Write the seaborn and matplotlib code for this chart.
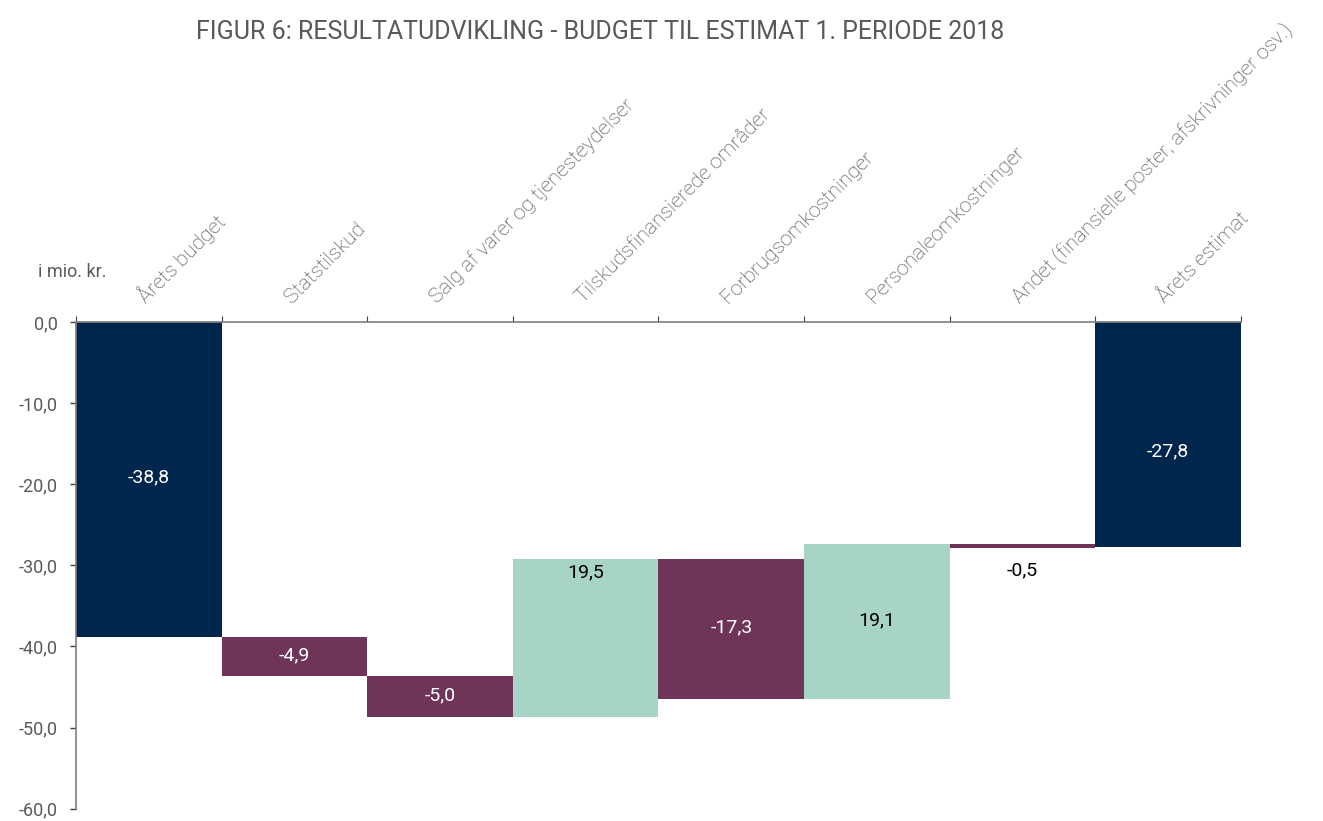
import numpy as np
import pandas as pd
import matplotlib
matplotlib.use("Agg")
import matplotlib.pyplot as plt
import seaborn as sns

# data
categories = [
    "Årets budget",
    "Statstilskud",
    "Salg af varer og tjenesteydelser",
    "Tilskudsfinansierede områder",
    "Forbrugsomkostninger",
    "Personaleomkostninger",
    "Andet (finansielle poster, afskrivninger osv.)",
    "Årets estimat",
]
changes = [-38.8, -4.9, -5.0, 19.5, -17.3, 19.1, -0.5, -27.8]
kinds = ["total", "change", "change", "change", "change", "change", "change", "total"]
y_ticks = [0, -10, -20, -30, -40, -50, -60]

NAVY = "#00264d"
PLUM = "#6e3558"
MINT = "#a8d4c6"
GREY = "#595959"

# waterfall bases
bottoms = []
running = 0.0
for ch, kind in zip(changes, kinds):
    if kind == "total":
        bottoms.append(0.0)
        running = ch
    else:
        bottoms.append(running)
        running += ch
df = pd.DataFrame({"cat": categories, "change": changes, "bottom": bottoms, "kind": kinds})

def bar_color(ch, kind):
    if kind == "total":
        return NAVY
    return MINT if ch > 0 else PLUM

sns.set_style("white")
plt.rcParams["font.family"] = ["Roboto", "DejaVu Sans"]

fig = plt.figure(figsize=(13.23, 8.21), dpi=100)
ax = fig.add_axes([0.0574, 0.0150, 0.8806, 0.5928])

sns.barplot(data=df, x="cat", y="change", bottom=df["bottom"].values, width=1.0,
            color=NAVY, errorbar=None, ax=ax, linewidth=0)
for patch, ch, kind in zip(ax.patches, changes, kinds):
    patch.set_facecolor(bar_color(ch, kind))
    patch.set_edgecolor("none")

# value labels
for i, (ch, b, kind) in enumerate(zip(changes, bottoms, kinds)):
    txt = f"{ch:.1f}".replace(".", ",")
    col = "black" if bar_color(ch, kind) == MINT else "white"
    lo, hi = min(b, b + ch), max(b, b + ch)
    if abs(ch) < 1:
        ax.text(i, lo - 1.6, txt, ha="center", va="top", fontsize=14, color="black")
    elif i == 3:
        ax.text(i, hi - 0.5, txt, ha="center", va="top", fontsize=14, color=col)
    elif i == len(categories) - 1:
        ax.text(i, (lo + hi) / 2 - 2.0, txt, ha="center", va="center", fontsize=14, color=col)
    else:
        ax.text(i, (lo + hi) / 2 + 0.2, txt, ha="center", va="center", fontsize=14, color=col)

ax.set_xlim(-0.5, len(categories) - 0.5)
ax.set_ylim(-60, 0)
ax.set_yticks(y_ticks)
ax.set_yticklabels([f"{t:.1f}".replace(".", ",") for t in y_ticks], color=GREY, fontsize=13)
ax.tick_params(axis="y", direction="out", length=4, width=1, color="#404040", pad=9, left=True)

# x axis on top: boundary ticks + centred rotated labels
ax.xaxis.tick_top()
ax.set_xticks(np.arange(len(categories) + 1) - 0.5)
ax.set_xticklabels([])
ax.set_xticks(np.arange(len(categories)), minor=True)
ax.set_xticklabels(categories, minor=True, rotation=45, ha="left", va="bottom",
                   rotation_mode="anchor", color="#404040", fontsize=15, fontweight="light")
ax.tick_params(axis="x", which="major", direction="out", length=4, color="#404040", top=True)
ax.tick_params(axis="x", which="minor", length=0, pad=11, top=True)
ax.set_xlabel("")
ax.set_ylabel("")

for side in ["right", "bottom"]:
    ax.spines[side].set_visible(False)
for side in ["left", "top"]:
    ax.spines[side].set_color("#7f7f7f")
    ax.spines[side].set_linewidth(1.2)

fig.text(0.4535, 0.961, "FIGUR 6: RESULTATUDVIKLING - BUDGET TIL ESTIMAT 1. PERIODE 2018",
         ha="center", va="center", fontsize=18, color=GREY)
fig.text(0.029, 0.669, "i mio. kr.", ha="left", va="center", fontsize=13, color=GREY)

fig.savefig("out.png", dpi=100, facecolor="white")
